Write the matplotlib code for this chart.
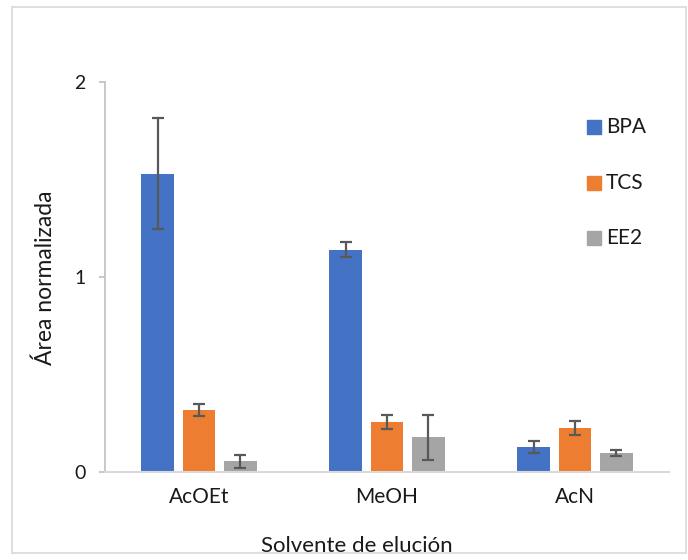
import matplotlib
matplotlib.use("Agg")
import matplotlib.pyplot as plt
import numpy as np
from matplotlib.patches import Rectangle

categories = ["AcOEt", "MeOH", "AcN"]
series = ["BPA", "TCS", "EE2"]
bpa = [1.53, 1.14, 0.127]
tcs = [0.318, 0.258, 0.227]
ee2 = [0.056, 0.178, 0.096]
bpa_err = [0.283, 0.038, 0.030]
tcs_err = [0.031, 0.036, 0.036]
ee2_err = [0.033, 0.116, 0.015]
colors = ["#4472C4", "#ED7D31", "#A5A5A5"]
yticks = [0, 1, 2]

plt.rcParams['font.family'] = ['Lato', 'DejaVu Sans']
txt_color = "#1a1a1a"

W, H = 688, 560
fig = plt.figure(figsize=(W / 100, H / 100), dpi=100)
ax = fig.add_axes([105 / W, 1 - 472 / H, (669 - 105) / W, (472 - 82) / H])

x = np.arange(len(categories))
bw = 0.175
step = 0.22
vals = [bpa, tcs, ee2]
errs = [bpa_err, tcs_err, ee2_err]
for i, (v, e, c) in enumerate(zip(vals, errs, colors)):
    ax.bar(x + (i - 1) * step, v, width=bw, color=c, zorder=2,
           yerr=e, error_kw=dict(ecolor="#595959", elinewidth=1.6,
                                 capsize=4.3, capthick=1.6, zorder=3))

ax.set_xlim(-0.5, 2.5)
ax.set_ylim(0, 2)
ax.set_yticks(yticks)
ax.set_yticklabels([str(t) for t in yticks], fontsize=14, color=txt_color)
ax.set_xticks(x)
ax.set_xticklabels(categories, fontsize=15, color=txt_color)
ax.tick_params(axis='x', length=0, pad=11)
ax.tick_params(axis='y', length=4, color="#BFBFBF", pad=10, width=1.2)

for s in ["top", "right"]:
    ax.spines[s].set_visible(False)
ax.spines["left"].set_color("#BFBFBF")
ax.spines["left"].set_linewidth(1.2)
ax.spines["bottom"].set_color("#D9D9D9")
ax.spines["bottom"].set_linewidth(1.5)

fig.text(45 / W, 1 - 278 / H, "Área normalizada", rotation=90,
         ha="center", va="center", fontsize=16.5, color=txt_color)
fig.text(357 / W, 1 - 546 / H, "Solvente de elución",
         ha="center", va="center", fontsize=16, color=txt_color)

# legend
leg_y = [127, 183, 238]
for name, c, yy in zip(series, colors, leg_y):
    fig.patches.append(Rectangle((587 / W, 1 - (yy + 7) / H), 14 / W, 14 / H,
                                 transform=fig.transFigure, color=c))
    fig.text(606 / W, 1 - yy / H, name, ha="left", va="center",
             fontsize=15, color=txt_color)

# outer border
fig.patches.append(Rectangle((12 / W, 1 - 553 / H), (686 - 12) / W, (553 - 7) / H,
                             transform=fig.transFigure, fill=False,
                             edgecolor="#D9D9D9", linewidth=1.2))

fig.savefig("out.png", dpi=100)
